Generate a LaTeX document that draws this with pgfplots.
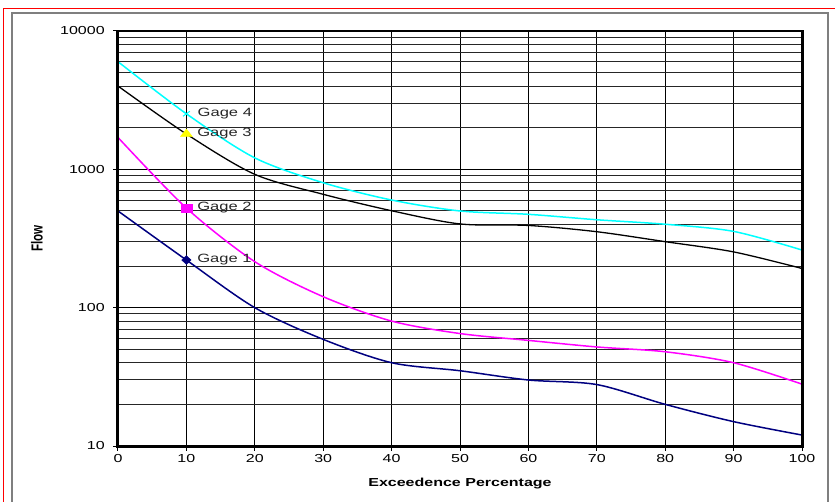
\documentclass[border=0pt]{standalone}
\usepackage{fontspec}
\setmainfont{Liberation Sans}
\usepackage{pgfplots}
\pgfplotsset{compat=1.18}
\definecolor{gnavy}{HTML}{000080}
\definecolor{gmag}{HTML}{FF00FF}
\definecolor{gcyan}{HTML}{00FFFF}
\definecolor{gyel}{HTML}{FFFF00}
\definecolor{frame}{HTML}{7F7F7F}
\begin{document}
\begin{tikzpicture}
\useasboundingbox (-118pt,-55pt) rectangle (717pt,446pt);
\draw[red, line width=1pt] (-114pt,-80pt) rectangle (740pt,437pt);
\draw[frame, line width=2pt] (-106pt,-80pt) rectangle (710pt,433pt);
\begin{axis}[
  name=ax,
  at={(0,0)}, anchor=south west, scale only axis,
  width=684pt, height=415pt,
  xmin=0, xmax=100, ymode=log, ymin=10, ymax=10000,
  xtick={0,10,...,100},
  xticklabels={0,10,20,30,40,50,60,70,80,90,100},
  ytick={10,100,1000,10000},
  yticklabels={10,100,1000,10000},
  xtick pos=bottom, ytick pos=left,
  grid=both,
  major grid style={black, line width=1pt},
  minor grid style={black!85, line width=1pt},
  tick align=outside, major tick length=5pt, minor tick length=0pt,
  tick style={black, line width=1pt},
  axis line style={black, line width=1.8pt},
  every tick label/.append style={font=\fontsize{11.6}{13}\selectfont, xscale=1.38},
  yticklabel style={xshift=-2.5pt},
  xlabel={\bfseries Exceedence Percentage},
  ylabel={\bfseries Flow},
  xlabel style={at={(axis description cs:0.5,-0.0916)}, anchor=center, font=\fontsize{11.6}{13}\selectfont, xscale=1.38},
  ylabel style={at={(axis description cs:-0.1184,0.5)}, anchor=center, font=\fontsize{11.6}{13}\selectfont, yscale=1.38},
  every node near coord/.append style={anchor=west, xshift=6pt, font=\fontsize{12}{14}\selectfont, xscale=1.38, text=black!85},
]
\addplot[gnavy, line width=1.5pt, smooth, no markers] coordinates {
(0,500)(10,221)(20,100)(30,59)(40,40)(50,35)(60,30)(70,27.8)(80,20)(90,15)(100,12)};
\addplot[gmag, line width=1.5pt, smooth, no markers] coordinates {
(0,1700)(10,525)(20,215)(30,120)(40,80)(50,65)(60,58)(70,52)(80,48)(90,40)(100,28)};
\addplot[black, line width=1.3pt, smooth, no markers] coordinates {
(0,4000)(10,1800)(20,920)(30,660)(40,502)(50,403)(60,393)(70,354)(80,300)(90,253)(100,192)};
\addplot[gcyan, line width=1.5pt, smooth, no markers] coordinates {
(0,6000)(10,2520)(20,1210)(30,800)(40,600)(50,500)(60,473)(70,432)(80,401)(90,356)(100,261)};
\addplot[only marks, mark=diamond*, mark size=4.5pt, color=gnavy, mark options={xscale=1.38},
  nodes near coords={Gage 1}] coordinates {(10,221)};
\addplot[only marks, mark=square*, mark size=4pt, color=gmag, mark options={xscale=1.38},
  nodes near coords={Gage 2}] coordinates {(10,525)};
\addplot[only marks, mark=triangle*, mark size=5pt, color=gyel, mark options={xscale=1.38},
  nodes near coords={Gage 3}] coordinates {(10,1800)};
\addplot[only marks, mark=x, mark size=3.5pt, color=gcyan, mark options={xscale=1.38, line width=1pt},
  nodes near coords={Gage 4}] coordinates {(10,2520)};
\end{axis}
\draw[black, line width=3pt, line cap=rect] (ax.north west) -- (ax.south west) -- (ax.south east) -- (ax.north east);
\end{tikzpicture}
\end{document}
